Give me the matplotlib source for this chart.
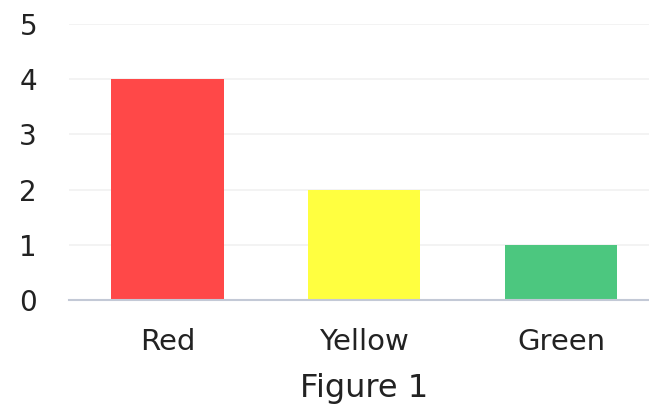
import matplotlib.pyplot as plt

# Daten
categories = ['Red', 'Yellow', 'Green']
values = [4, 2, 1]
bar_colors = ['#ff4848', '#ffff40', '#4cc77f']
y_ticks = [0, 1, 2, 3, 4, 5]

plt.rcParams['font.family'] = ['DejaVu Sans']

fig = plt.figure(figsize=(6.49, 4.12), dpi=100)
ax = fig.add_axes([69 / 649, 1 - 300 / 412, (659.5 - 69) / 649, (300 - 24) / 412])

x = range(len(categories))
ax.bar(x, values, width=0.57, color=bar_colors, zorder=2)

ax.set_xlim(-0.5, 2.5)
ax.set_ylim(0, 5)
ax.set_yticks(y_ticks)
ax.set_xticks(list(x))
ax.set_xticklabels(categories, fontsize=21, color='#222222')
ax.set_yticklabels([str(t) for t in y_ticks], fontsize=20, color='#222222')
ax.tick_params(axis='both', length=0)
ax.tick_params(axis='y', pad=23)
ax.tick_params(axis='x', pad=20)

ax.grid(axis='y', color='#f1f1f1', linewidth=1.2, zorder=0)
for s in ['top', 'right', 'left']:
    ax.spines[s].set_visible(False)
ax.spines['bottom'].set_color('#c3c9d6')
ax.spines['bottom'].set_linewidth(1.5)
ax.spines['bottom'].set_zorder(3)

fig.text(364 / 649, 1 - 388 / 412, 'Figure 1', fontsize=23, color='#222222',
         ha='center', va='center')

fig.savefig('out.png', dpi=100)
